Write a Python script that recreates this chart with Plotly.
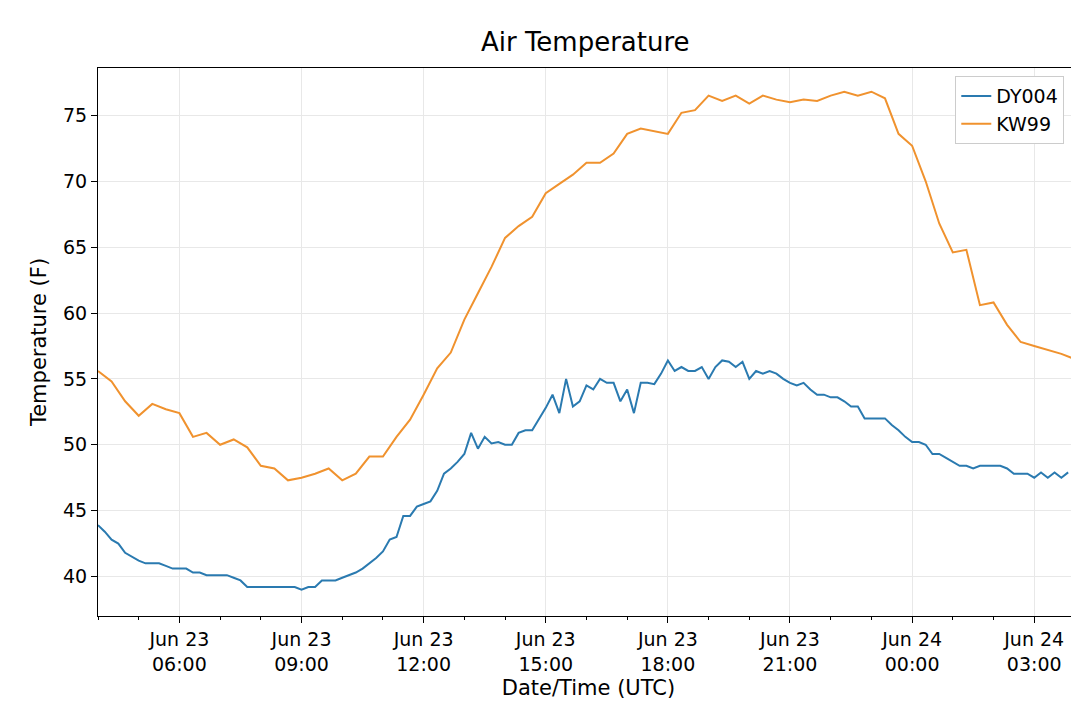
import pandas as pd
import plotly.graph_objects as go

# DY004: 10-minute readings starting 2019-06-23 04:00 UTC
dy004_temp = [
    43.9, 43.4, 42.8, 42.5, 41.8, 41.5, 41.2, 41.0, 41.0, 41.0, 40.8, 40.6,
    40.6, 40.6, 40.3, 40.3, 40.1, 40.1, 40.1, 40.1, 39.9, 39.7, 39.2, 39.2,
    39.2, 39.2, 39.2, 39.2, 39.2, 39.2, 39.0, 39.2, 39.2, 39.7, 39.7, 39.7,
    39.9, 40.1, 40.3, 40.6, 41.0, 41.4, 41.9, 42.8, 43.0, 44.6, 44.6, 45.3,
    45.5, 45.7, 46.5, 47.8, 48.2, 48.7, 49.3, 50.9, 49.7, 50.6, 50.1, 50.2,
    50.0, 50.0, 50.9, 51.1, 51.1, 51.9, 52.8, 53.8, 52.4, 55.0, 52.9, 53.3,
    54.5, 54.2, 55.0, 54.7, 54.7, 53.3, 54.2, 52.4, 54.7, 54.7, 54.6, 55.4,
    56.4, 55.6, 55.9, 55.6, 55.6, 55.9, 55.0, 55.9, 56.4, 56.3, 55.9, 56.3,
    55.0, 55.6, 55.4, 55.6, 55.4, 55.0, 54.7, 54.5, 54.7, 54.2, 53.8, 53.8,
    53.6, 53.6, 53.3, 52.9, 52.9, 52.0, 52.0, 52.0, 52.0, 51.5, 51.1, 50.6,
    50.2, 50.2, 50.0, 49.3, 49.3, 49.0, 48.7, 48.4, 48.4, 48.2, 48.4, 48.4,
    48.4, 48.4, 48.2, 47.8, 47.8, 47.8, 47.5, 47.9, 47.5, 47.9, 47.5, 47.9,
]

# KW99: 20-minute readings starting 2019-06-23 04:00 UTC
kw99_temp = [
    55.6, 54.8, 53.3, 52.2, 53.1, 52.7, 52.4, 50.6, 50.9, 50.0, 50.4, 49.8,
    48.4, 48.2, 47.3, 47.5, 47.8, 48.2, 47.3, 47.8, 49.1, 49.1, 50.6, 51.9,
    53.8, 55.8, 57.0, 59.5, 61.5, 63.5, 65.7, 66.6, 67.3, 69.1, 69.8, 70.5,
    71.4, 71.4, 72.1, 73.6, 74.0, 73.8, 73.6, 75.2, 75.4, 76.5, 76.1, 76.5,
    75.9, 76.5, 76.2, 76.0, 76.2, 76.1, 76.5, 76.8, 76.5, 76.8, 76.3, 73.6,
    72.7, 70.0, 66.8, 64.6, 64.8, 60.6, 60.8, 59.1, 57.8, 57.5, 57.2, 56.9,
    56.5, 55.7,
]

dy004_time = pd.date_range("2019-06-23 04:00", periods=len(dy004_temp), freq="10min")
kw99_time = pd.date_range("2019-06-23 04:00", periods=len(kw99_temp), freq="20min")

tick_vals = pd.date_range("2019-06-23 06:00", "2019-06-24 03:00", freq="3h")
tick_text = [t.strftime("%b %d<br>%H:%M") for t in tick_vals]

fig = go.Figure()
fig.add_trace(go.Scatter(x=dy004_time, y=dy004_temp, mode="lines", name="DY004",
                         line=dict(color="#2a7ab0", width=2)))
fig.add_trace(go.Scatter(x=kw99_time, y=kw99_temp, mode="lines", name="KW99",
                         line=dict(color="#f0922e", width=2)))

axis_style = dict(
    showline=True, linecolor="black", linewidth=1, mirror=True,
    showgrid=True, gridcolor="#e8e8e8", gridwidth=1, zeroline=False,
    ticks="outside", ticklen=6, tickcolor="black", automargin=False,
    tickfont=dict(size=19, color="black"),
)

fig.update_layout(
    width=1079, height=705,
    paper_bgcolor="white", plot_bgcolor="white",
    font=dict(family="DejaVu Sans", color="black"),
    title=dict(text="Air Temperature", x=0.535, xanchor="center", y=0.965,
               font=dict(size=26)),
    margin=dict(l=90, r=8, t=60, b=97),
    legend=dict(x=0.985, y=0.985, xanchor="right", yanchor="top",
                bordercolor="#cccccc", borderwidth=1, bgcolor="white",
                font=dict(size=19)),
)
fig.update_xaxes(
    **axis_style,
    range=["2019-06-23 04:00", "2019-06-24 04:06"],
    tickvals=tick_vals, ticktext=tick_text,
    minor=dict(dtick=3600000, ticks="outside", ticklen=3, tickcolor="black", showgrid=False),
    title=dict(text="Date/Time (UTC)", font=dict(size=21), standoff=6),
)
fig.update_yaxes(
    **axis_style,
    range=[37.0, 78.6], dtick=5,
    title=dict(text="Temperature (F)", font=dict(size=21), standoff=10),
)

fig.write_html("out.html")
